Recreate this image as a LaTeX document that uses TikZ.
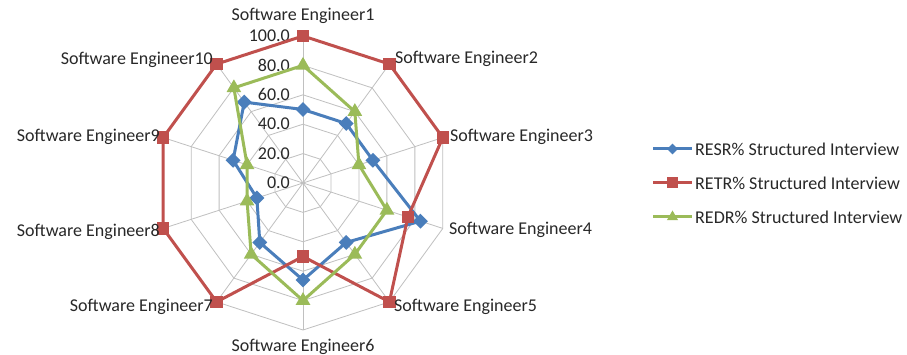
\documentclass[tikz,border=0pt]{standalone}
\usepackage{fontspec}
\setmainfont{Carlito}
\usetikzlibrary{shapes.geometric,positioning,calc}
\definecolor{resrblue}{RGB}{74,126,187}
\definecolor{retrred}{RGB}{192,80,77}
\definecolor{redrgreen}{RGB}{155,187,89}
\definecolor{gridgray}{RGB}{192,192,192}
\definecolor{labelgray}{RGB}{40,40,40}

\begin{document}
\begin{tikzpicture}[
        x=1pt, y=1pt,
        every node/.style={inner sep=0pt, text=labelgray, font=\fontsize{18}{20}\selectfont},
        grid line/.style={draw=gridgray, line width=0.8pt},
        series/.style={line width=3pt, line join=round},
        blue mark/.style={diamond, fill=resrblue, minimum size=15pt},
        red mark/.style={rectangle, fill=retrred, minimum size=12.5pt},
        green mark/.style={regular polygon, regular polygon sides=3, fill=redrgreen, minimum size=17pt},
        legend text/.style={anchor=west}
    ]
    \useasboundingbox[fill=white] (0,0) rectangle (907,355);

    \begin{scope}[shift={(303,172)}]
        \coordinate (c) at (0,0);
        \foreach \k in {1,...,10}
            \coordinate (o\k) at ({90-36*(\k-1)}:147);
        \foreach \r in {1,...,5}
            \draw[grid line] (90:{\r*29.4}) \foreach \k in {1,...,9}{ -- ({90-36*\k}:{\r*29.4})} -- cycle;
        \foreach \k in {1,...,10}
            \draw[grid line] (c) -- (o\k);

        \foreach \v [count=\i] in {0.0,20.0,40.0,60.0,80.0,100.0}
            \node[anchor=east] (tick\i) at (-13,{(\i-1)*29.4}) {\v};

        \foreach \v [count=\k] in {50,50,50,84,50,66,50,33,50,68}
            \coordinate (b\k) at ({90-36*(\k-1)}:{1.47*\v});
        \foreach \v [count=\k] in {100,100,100,75,100,50,100,100,100,100}
            \coordinate (r\k) at ({90-36*(\k-1)}:{1.47*\v});
        \foreach \v [count=\k] in {80,60,40,60,60,80,60,40,40,80}
            \coordinate (g\k) at ({90-36*(\k-1)}:{1.47*\v});

        \draw[series, resrblue] (b1) \foreach \k in {2,...,10}{ -- (b\k)} -- cycle;
        \foreach \k in {1,...,10}
            \node[blue mark] (bm\k) at (b\k) {};
        \draw[series, retrred] (r1) \foreach \k in {2,...,10}{ -- (r\k)} -- cycle;
        \foreach \k in {1,...,10}
            \node[red mark] (rm\k) at (r\k) {};
        \draw[series, redrgreen] (g1) \foreach \k in {2,...,10}{ -- (g\k)} -- cycle;
        \foreach \k in {1,...,10}
            \node[green mark] (gm\k) at (g\k) {};

        \node[anchor=south] (se1) at (0,159) {Software Engineer1};
        \node[anchor=west] (se2) at (92,124) {Software Engineer2};
        \node[anchor=west] (se3) at (147,46) {Software Engineer3};
        \node[anchor=west] (se4) at (146,-47) {Software Engineer4};
        \node[anchor=west] (se5) at (91,-124) {Software Engineer5};
        \node[anchor=north] (se6) at (0,-155.5) {Software Engineer6};
        \node[anchor=east] (se7) at (-90,-124) {Software Engineer7};
        \node[anchor=east] (se8) at (-143,-49) {Software Engineer8};
        \node[anchor=east] (se9) at (-143,46) {Software Engineer9};
        \node[anchor=east] (se10) at (-90,123) {Software Engineer10};
    \end{scope}

    \coordinate (ls1) at (653,206);
    \coordinate (ls2) at (653,172);
    \coordinate (ls3) at (653,138);
    \draw[series, resrblue] (ls1) -- ++(39,0) coordinate (le1);
    \node[blue mark, minimum size=11pt] (lm1) at ($(ls1)!0.5!(le1)$) {};
    \node[legend text, right=3pt of le1] (lt1) {RESR\% Structured Interview};
    \draw[series, retrred] (ls2) -- ++(39,0) coordinate (le2);
    \node[red mark, minimum size=11pt] (lm2) at ($(ls2)!0.5!(le2)$) {};
    \node[legend text, right=3pt of le2] (lt2) {RETR\% Structured Interview};
    \draw[series, redrgreen] (ls3) -- ++(39,0) coordinate (le3);
    \node[green mark, minimum size=13pt] (lm3) at ($(ls3)!0.5!(le3)$) {};
    \node[legend text, right=3pt of le3] (lt3) {REDR\% Structured Interview};
\end{tikzpicture}
\end{document}
